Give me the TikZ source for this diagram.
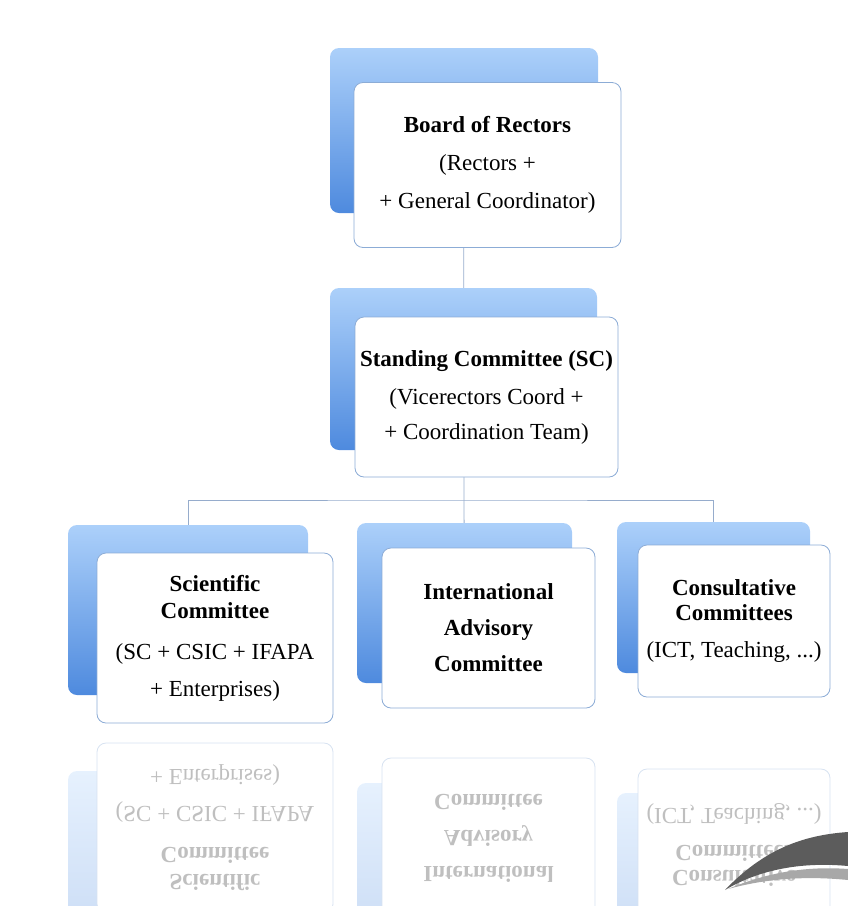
\documentclass[tikz,border=0pt]{standalone}
\usepackage{fontspec}
\setmainfont{Liberation Serif}
\usetikzlibrary{backgrounds}

\definecolor{backtop}{RGB}{172,208,250}
\definecolor{backbot}{RGB}{78,138,222}
\definecolor{boxline}{RGB}{140,172,214}
\definecolor{linkline}{RGB}{150,172,204}
\definecolor{swooshdark}{RGB}{92,92,92}
\definecolor{swooshlight}{RGB}{168,168,168}

\tikzset{
  backbox/.style={rounded corners=9pt, top color=backtop, bottom color=backbot, inner sep=0pt},
  frontbox/.style={rounded corners=9pt, fill=white, draw=boxline, line width=0.8pt, align=center, inner sep=0pt, font=\fontsize{23}{28}\selectfont},
  backrefl/.style={backbox, top color=backtop!30!white, bottom color=backbot!30!white},
  frontrefl/.style={frontbox, draw=boxline!35!white, text=black!25},
  link/.style={draw=linkline, line width=0.8pt},
}

% the three committees of the lower row (name prefix, back style, front style)
\newcommand{\lowerrow}[3]{%
  \node[#2, minimum width=240, minimum height=170] (#1sciback) at (188,610) {};
  \node[#3, minimum width=236, minimum height=170] (#1sci) at (215,638)
    {\textbf{Scientific}\\[-1pt]\textbf{Committee}\\[13pt](SC + CSIC + IFAPA\\[9pt]+ Enterprises)};
  \node[#2, minimum width=215, minimum height=160] (#1iacback) at (464.5,603) {};
  \node[#3, minimum width=213, minimum height=160] (#1iac) at (488.5,628)
    {\textbf{International}\\[8pt]\textbf{Advisory}\\[8pt]\textbf{Committee}};
  \node[#2, minimum width=193, minimum height=151] (#1consback) at (713.5,597.5) {};
  \node[#3, minimum width=192, minimum height=152] (#1cons) at (734,621)
    {\textbf{Consultative}\\[-3pt]\textbf{Committees}\\[9pt](ICT, Teaching, ...)};
}

\begin{document}
\begin{tikzpicture}[x=1pt, y=-1pt]
  \clip (0,0) rectangle (848,906);

  % board
  \node[backbox, minimum width=268, minimum height=165] (boardback) at (464,130.5) {};
  \node[frontbox, minimum width=267, minimum height=165] (board) at (487.5,165)
    {\textbf{Board of Rectors}\\[10pt](Rectors +\\[10pt]+ General Coordinator)};

  % standing committee
  \node[backbox, minimum width=267, minimum height=162] (scback) at (463.5,369) {};
  \node[frontbox, minimum width=263, minimum height=160] (sc) at (486.5,397)
    {\textbf{Standing Committee (SC)}\\[10pt](Vicerectors Coord +\\[7pt]+ Coordination Team)};

  \lowerrow{}{backbox}{frontbox}

  % links
  \coordinate (bus) at (464,500);
  \begin{scope}[on background layer]
    \draw[link] (boardback) -- (scback);
    \draw[link] (scback) -- (bus) -- (iacback);
    \draw[link] (sciback) |- (bus) -| (consback);
  \end{scope}

  % reflection
  \begin{scope}[shift={(0,1466)}, yscale=-1, transform shape]
    \lowerrow{r}{backrefl}{frontrefl}
  \end{scope}

  % swoosh
  \fill[swooshdark] (725,890) .. controls (765,848) and (805,835) .. (848,832)
    -- (848,866) .. controls (805,862) and (762,868) .. (725,890);
  \fill[swooshlight] (728,889) .. controls (768,872) and (808,866) .. (848,869)
    -- (848,880) .. controls (808,876) and (768,878) .. (728,889);
\end{tikzpicture}
\end{document}
